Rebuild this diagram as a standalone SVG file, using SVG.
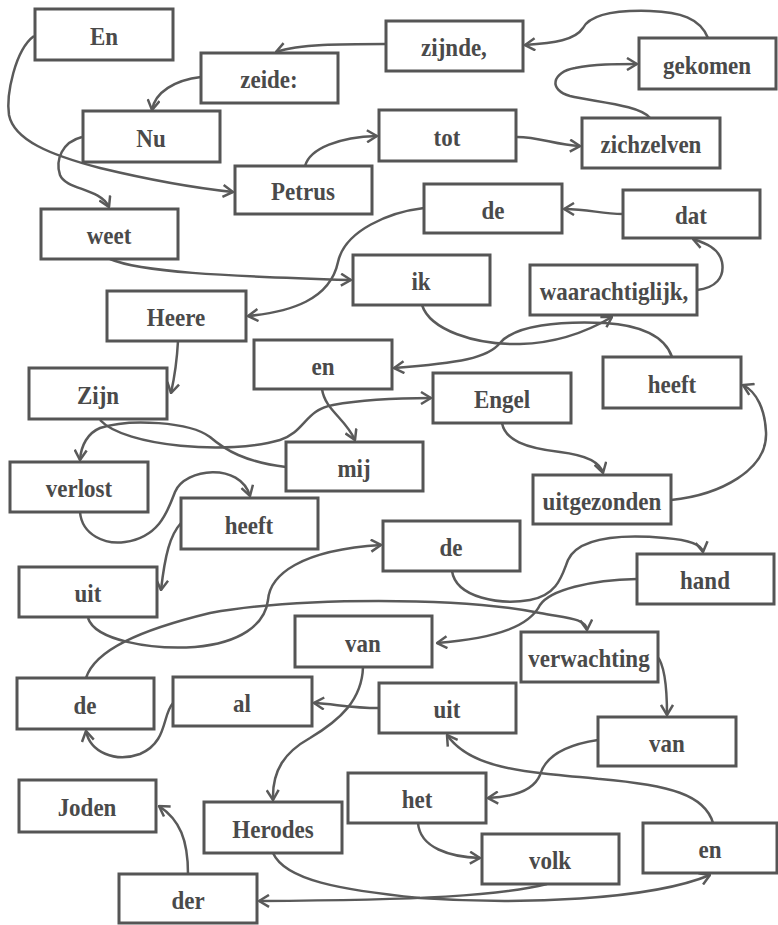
<svg xmlns="http://www.w3.org/2000/svg" width="778" height="925" viewBox="0 0 778 925">
<style>
.box{fill:#fff;stroke:#555;stroke-width:3}
.t{font-family:'Liberation Serif','Times New Roman',serif;font-weight:700;font-size:23px;fill:#4a4a4a;text-anchor:middle;transform-box:fill-box;transform-origin:center;transform:scale(1,1.1)}
.c{fill:none;stroke:#5a5a5a;stroke-width:2.5;marker-end:url(#ah)}
</style>
<defs>
<marker id="ah" viewBox="0 0 12 14" refX="11" refY="7" markerWidth="12" markerHeight="14" markerUnits="userSpaceOnUse" orient="auto">
<path d="M1,1 L11,7 L1,13" fill="none" stroke="#5a5a5a" stroke-width="2.5"/>
</marker>
</defs>
<rect width="778" height="925" fill="#fff"/>
<g id="connectors">
<path class="c" d="M34,36 C15,50 6,95 9,115 C14,140 50,155 100,168 C150,180 195,188 233,192"/>
<path class="c" d="M305,166 C310,148 340,137 377,136"/>
<path class="c" d="M517,137 C540,137 555,145 580,146"/>
<path class="c" d="M650,118 C640,105 595,102 570,96 C548,90 552,72 575,68 C595,64 615,64 637,64"/>
<path class="c" d="M708,38 C700,18 680,12 650,11 C615,10 590,15 583,28 C575,40 555,43 525,45"/>
<path class="c" d="M386,44 C340,44 300,44 276,52"/>
<path class="c" d="M201,77 C175,80 155,92 152,110"/>
<path class="c" d="M82,137 C62,142 55,160 60,175 C66,190 100,188 109,207"/>
<path class="c" d="M110,259 C140,272 220,276 351,280"/>
<path class="c" d="M422,305 C430,330 475,345 520,344 C560,343 590,330 612,317"/>
<path class="c" d="M697,290 C715,288 725,278 722,262 C719,248 705,243 693,239"/>
<path class="c" d="M623,214 C600,214 590,209 564,209"/>
<path class="c" d="M424,208 C390,212 345,230 338,262 C330,300 290,312 248,316"/>
<path class="c" d="M178,341 C177,360 175,375 171,393"/>
<path class="c" d="M100,420 C125,447 230,455 280,440 C305,432 305,410 333,405 C360,400 400,398 431,398"/>
<path class="c" d="M502,423 C505,440 525,448 560,452 C585,455 600,462 603,473"/>
<path class="c" d="M671,500 C720,495 768,470 766,432 C765,410 757,392 743,385"/>
<path class="c" d="M672,357 C665,336 640,325 605,323 C560,321 515,325 500,343 C488,358 460,363 394,368"/>
<path class="c" d="M322,389 C325,410 345,418 355,440"/>
<path class="c" d="M286,467 C245,462 225,450 210,437 C190,422 130,418 100,428 C88,433 81,445 80,460"/>
<path class="c" d="M80,512 C82,535 105,545 125,542 C160,537 168,510 175,492 C185,468 240,462 250,496"/>
<path class="c" d="M181,523 C170,535 165,555 161,590"/>
<path class="c" d="M88,618 C95,640 150,650 195,647 C240,643 265,625 268,600 C270,575 300,550 381,545"/>
<path class="c" d="M86,678 C95,650 140,630 210,613 C300,597 460,597 540,613 C565,618 586,618 587,630"/>
<path class="c" d="M452,571 C456,598 500,605 530,600 C558,595 562,575 568,560 C580,535 630,535 665,538 C690,540 702,545 703,552"/>
<path class="c" d="M637,579 C590,580 550,590 540,605 C530,625 500,638 437,643"/>
<path class="c" d="M363,667 C362,700 340,720 310,738 C285,752 272,770 273,800"/>
<path class="c" d="M273,853 C285,880 340,890 420,898 C520,905 650,900 710,875"/>
<path class="c" d="M547,884 C500,896 420,900 259,901"/>
<path class="c" d="M713,823 C705,795 670,785 600,779 C520,772 470,768 447,735"/>
<path class="c" d="M379,708 C350,708 335,704 314,703"/>
<path class="c" d="M173,703 C162,715 168,742 140,754 C115,763 90,752 86,731"/>
<path class="c" d="M657,656 C665,665 667,690 667,715"/>
<path class="c" d="M598,740 C565,745 545,757 540,775 C533,792 510,797 488,798"/>
<path class="c" d="M418,823 C420,848 450,857 480,858"/>
<path class="c" d="M188,874 C188,840 180,820 159,806"/>
</g>
<g id="n-en"><rect class="box" x="35" y="9" width="138" height="51"/><text class="t" x="104" y="44">En</text></g>
<g id="n-zijnde"><rect class="box" x="386" y="21" width="137" height="50"/><text class="t" x="454" y="55">zijnde,</text></g>
<g id="n-gekomen"><rect class="box" x="639" y="38" width="137" height="51"/><text class="t" x="707" y="73">gekomen</text></g>
<g id="n-zeide"><rect class="box" x="201" y="53" width="137" height="50"/><text class="t" x="269" y="87">zeide:</text></g>
<g id="n-nu"><rect class="box" x="83" y="111" width="137" height="51"/><text class="t" x="151" y="146">Nu</text></g>
<g id="n-tot"><rect class="box" x="379" y="110" width="137" height="51"/><text class="t" x="447" y="145">tot</text></g>
<g id="n-zichzelven"><rect class="box" x="582" y="118" width="138" height="50"/><text class="t" x="651" y="152">zichzelven</text></g>
<g id="n-petrus"><rect class="box" x="235" y="166" width="137" height="48"/><text class="t" x="303" y="199">Petrus</text></g>
<g id="n-de1"><rect class="box" x="424" y="184" width="138" height="49"/><text class="t" x="493" y="218">de</text></g>
<g id="n-dat"><rect class="box" x="623" y="190" width="137" height="48"/><text class="t" x="691" y="223">dat</text></g>
<g id="n-weet"><rect class="box" x="41" y="209" width="137" height="50"/><text class="t" x="109" y="243">weet</text></g>
<g id="n-ik"><rect class="box" x="353" y="255" width="137" height="50"/><text class="t" x="421" y="289">ik</text></g>
<g id="n-waarachtiglijk"><rect class="box" x="530" y="265" width="167" height="50"/><text class="t" x="614" y="299">waarachtiglijk,</text></g>
<g id="n-heere"><rect class="box" x="107" y="291" width="139" height="50"/><text class="t" x="176" y="325">Heere</text></g>
<g id="n-en1"><rect class="box" x="254" y="340" width="138" height="49"/><text class="t" x="323" y="374">en</text></g>
<g id="n-heeft1"><rect class="box" x="603" y="357" width="138" height="51"/><text class="t" x="672" y="392">heeft</text></g>
<g id="n-zijn"><rect class="box" x="29" y="368" width="138" height="51"/><text class="t" x="98" y="403">Zijn</text></g>
<g id="n-engel"><rect class="box" x="433" y="373" width="138" height="50"/><text class="t" x="502" y="407">Engel</text></g>
<g id="n-mij"><rect class="box" x="286" y="442" width="137" height="49"/><text class="t" x="354" y="476">mij</text></g>
<g id="n-verlost"><rect class="box" x="10" y="462" width="138" height="50"/><text class="t" x="79" y="496">verlost</text></g>
<g id="n-uitgezonden"><rect class="box" x="533" y="475" width="138" height="49"/><text class="t" x="602" y="509">uitgezonden</text></g>
<g id="n-heeft2"><rect class="box" x="181" y="498" width="137" height="51"/><text class="t" x="249" y="533">heeft</text></g>
<g id="n-de2"><rect class="box" x="383" y="521" width="137" height="50"/><text class="t" x="451" y="555">de</text></g>
<g id="n-hand"><rect class="box" x="637" y="554" width="137" height="50"/><text class="t" x="705" y="588">hand</text></g>
<g id="n-uit1"><rect class="box" x="19" y="567" width="138" height="50"/><text class="t" x="88" y="601">uit</text></g>
<g id="n-van1"><rect class="box" x="295" y="616" width="137" height="51"/><text class="t" x="363" y="651">van</text></g>
<g id="n-verwachting"><rect class="box" x="521" y="632" width="137" height="50"/><text class="t" x="589" y="666">verwachting</text></g>
<g id="n-de3"><rect class="box" x="17" y="678" width="137" height="51"/><text class="t" x="85" y="713">de</text></g>
<g id="n-al"><rect class="box" x="173" y="677" width="139" height="49"/><text class="t" x="242" y="711">al</text></g>
<g id="n-uit2"><rect class="box" x="379" y="683" width="137" height="50"/><text class="t" x="447" y="717">uit</text></g>
<g id="n-van2"><rect class="box" x="598" y="717" width="138" height="49"/><text class="t" x="667" y="751">van</text></g>
<g id="n-het"><rect class="box" x="348" y="773" width="138" height="50"/><text class="t" x="417" y="807">het</text></g>
<g id="n-joden"><rect class="box" x="19" y="780" width="137" height="52"/><text class="t" x="87" y="815">Joden</text></g>
<g id="n-herodes"><rect class="box" x="204" y="802" width="138" height="51"/><text class="t" x="273" y="837">Herodes</text></g>
<g id="n-en2"><rect class="box" x="643" y="823" width="134" height="50"/><text class="t" x="710" y="857">en</text></g>
<g id="n-volk"><rect class="box" x="482" y="834" width="137" height="50"/><text class="t" x="550" y="868">volk</text></g>
<g id="n-der"><rect class="box" x="119" y="874" width="138" height="49"/><text class="t" x="188" y="908">der</text></g>
</svg>
